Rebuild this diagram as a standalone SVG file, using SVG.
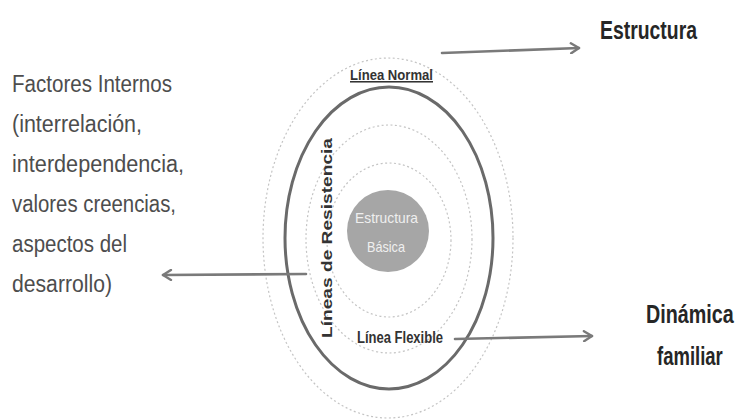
<svg xmlns="http://www.w3.org/2000/svg" width="738" height="420" viewBox="0 0 738 420">
  <style>
    .side { font-family: "Liberation Sans", Arial, sans-serif; font-size: 23.5px; fill: #4d4d4d; }
    .head { font-family: "Liberation Sans", Arial, sans-serif; font-weight: bold; fill: #262626; }
    .ring { fill: none; stroke: #c4c4c4; stroke-width: 1.2; stroke-dasharray: 2 2.5; }
    .lbl { font-family: "Liberation Sans", Arial, sans-serif; font-weight: bold; fill: #333; }
    .arrow { fill: none; stroke: #7a7a7a; stroke-width: 2.6; stroke-linecap: round; stroke-linejoin: round; }
  </style>
  <defs>
    <marker id="head" viewBox="0 0 12 12" refX="10" refY="6" markerWidth="12" markerHeight="12" markerUnits="userSpaceOnUse" orient="auto">
      <path d="M2,1 L10,6 L2,11" fill="none" stroke="#7a7a7a" stroke-width="2.4" stroke-linecap="round" stroke-linejoin="round"/>
    </marker>
  </defs>
  <rect width="738" height="420" fill="#ffffff"/>

  <!-- concentric model -->
  <g id="model">
    <ellipse class="ring" cx="388" cy="238" rx="125" ry="180"/>
    <ellipse cx="389" cy="238" rx="104" ry="151" fill="none" stroke="#6a6a6a" stroke-width="3"/>
    <ellipse class="ring" cx="389" cy="239" rx="83" ry="114"/>
    <ellipse class="ring" cx="389" cy="240" rx="62" ry="77"/>
  </g>

  <g id="core">
    <circle cx="388" cy="231" r="41" fill="#a6a6a6"/>
    <text x="355" y="223" textLength="63" lengthAdjust="spacingAndGlyphs" font-family="Liberation Sans, sans-serif" font-size="15" fill="#efefef">Estructura</text>
    <text x="367" y="252" textLength="38" lengthAdjust="spacingAndGlyphs" font-family="Liberation Sans, sans-serif" font-size="15" fill="#efefef">Básica</text>
  </g>

  <g id="linea-normal">
    <text class="lbl" x="350" y="80" textLength="83" lengthAdjust="spacingAndGlyphs" font-size="15.5" text-decoration="underline">Línea Normal</text>
  </g>

  <g id="linea-flexible">
    <text class="lbl" x="357" y="343" textLength="86" lengthAdjust="spacingAndGlyphs" font-size="16">Línea Flexible</text>
  </g>

  <g id="lineas-resistencia">
    <text class="lbl" x="-100" y="0" textLength="200" lengthAdjust="spacingAndGlyphs" font-size="15" transform="translate(332,238) rotate(-90)">Líneas de Resistencia</text>
  </g>

  <!-- outer labels -->
  <g id="factores">
    <text class="side" x="12" y="92" textLength="160" lengthAdjust="spacingAndGlyphs">Factores Internos</text>
    <text class="side" x="12" y="132" textLength="130" lengthAdjust="spacingAndGlyphs">(interrelación,</text>
    <text class="side" x="12" y="172" textLength="172" lengthAdjust="spacingAndGlyphs">interdependencia,</text>
    <text class="side" x="12" y="212" textLength="164" lengthAdjust="spacingAndGlyphs">valores creencias,</text>
    <text class="side" x="12" y="252" textLength="115" lengthAdjust="spacingAndGlyphs">aspectos del</text>
    <text class="side" x="12" y="292" textLength="100" lengthAdjust="spacingAndGlyphs">desarrollo)</text>
  </g>

  <g id="estructura">
    <text class="head" x="600" y="39" font-size="25" textLength="97" lengthAdjust="spacingAndGlyphs">Estructura</text>
  </g>

  <!-- condensed by horizontal scaling so the glyph boxes stay inside the frame -->
  <g id="dinamica">
    <text class="head" x="0" y="0" font-size="25" transform="translate(646,323) scale(0.79,1)">Dinámica</text>
    <text class="head" x="0" y="0" font-size="25" transform="translate(657,365) scale(0.74,1)">familiar</text>
  </g>

  <!-- connectors -->
  <g id="connectors">
    <line class="arrow" x1="442" y1="53" x2="579" y2="48" marker-end="url(#head)"/>
    <line class="arrow" x1="306" y1="274" x2="163" y2="275" marker-end="url(#head)"/>
    <line class="arrow" x1="455" y1="339" x2="592" y2="336" marker-end="url(#head)"/>
  </g>
</svg>
